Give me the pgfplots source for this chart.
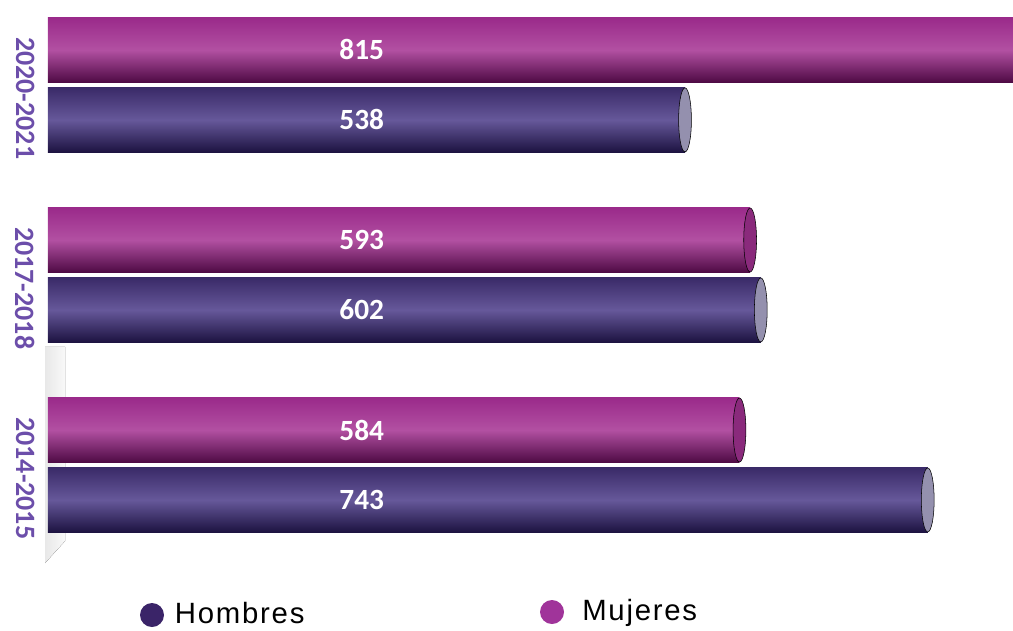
\documentclass[border=0pt]{standalone}
\usepackage{fontspec}
\setmainfont{Carlito}
\newfontfamily\legfont[LetterSpace=6]{Liberation Sans}
\usepackage{pgfplots}
\pgfplotsset{compat=1.18}
\definecolor{hTop}{HTML}{3A2A68}
\definecolor{hMid}{HTML}{66589A}
\definecolor{hBot}{HTML}{1C1240}
\definecolor{mTop}{HTML}{9A2A8A}
\definecolor{mMid}{HTML}{B250A2}
\definecolor{mBot}{HTML}{4E0A44}
\definecolor{catcol}{HTML}{6C4EAA}
\definecolor{hLeg}{HTML}{3A2468}
\definecolor{mLeg}{HTML}{A0349A}
\definecolor{hCap}{HTML}{9490AE}
\definecolor{mCap}{HTML}{8A2A7C}
\tikzset{vlab/.style={text=white, font=\bfseries\fontsize{22}{22}\selectfont}}
\pgfplotsset{
  hbar/.style={xbar, bar width=48.75pt, bar shift=-26.25pt, draw=none,
    top color=hTop, bottom color=hBot, middle color=hMid},
  mbar/.style={xbar, bar width=48.75pt, bar shift=26.25pt, draw=none,
    top color=mTop, bottom color=mBot, middle color=mMid},
}
\begin{document}
\begin{tikzpicture}
\begin{axis}[
  scale only axis,
  width=723.75pt, height=431.25pt,
  xmin=0, xmax=815, ymin=-0.579, ymax=2.447,
  clip=false,
  axis line style={draw=none},
  tick style={draw=none},
  xtick=\empty,
  ytick={-0.07,0.93,1.93},
  yticklabels={2014-2015,2017-2018,2020-2021},
  yticklabel style={rotate=-90, anchor=north, inner sep=0pt,
    font=\bfseries\fontsize{21}{21}\selectfont, text=catcol},
  yticklabel shift={10pt},
]
% left wall
\fill[left color=gray!18, right color=gray!5]
  (axis cs:-2.5,0.621) -- (axis cs:14.4,0.621) -- (axis cs:14.4,-0.40)
  -- (axis cs:-2.5,-0.516) -- cycle;
% bar end caps (drawn first, under the bars)
\addplot[only marks, mark=*, mark size=24pt,
  mark options={xscale=0.2, fill=hCap, draw=none}]
  coordinates {(743,-0.184) (602,0.816) (538,1.816)};
\addplot[only marks, mark=*, mark size=24pt,
  mark options={xscale=0.2, fill=mCap, draw=none}]
  coordinates {(584,0.184) (593,1.184)};
% Hombres
\addplot[hbar] coordinates {(743,0)};
\addplot[hbar] coordinates {(602,1)};
\addplot[hbar] coordinates {(538,2)};
% Mujeres
\addplot[mbar] coordinates {(584,0)};
\addplot[mbar] coordinates {(593,1)};
\addplot[mbar] coordinates {(815,2)};
% value labels
\node[vlab, yshift=-26.25pt] at (axis cs:265,0) {743};
\node[vlab, yshift=-26.25pt] at (axis cs:265,1) {602};
\node[vlab, yshift=-26.25pt] at (axis cs:265,2) {538};
\node[vlab, yshift=26.25pt] at (axis cs:265,0) {584};
\node[vlab, yshift=26.25pt] at (axis cs:265,1) {593};
\node[vlab, yshift=26.25pt] at (axis cs:265,2) {815};
% legend
\fill[hLeg] ([xshift=78pt,yshift=-30pt]rel axis cs:0,0) circle (9pt);
\node[anchor=base west, inner sep=0pt, font=\legfont\fontsize{22}{22}\selectfont]
  at ([xshift=95pt,yshift=-36pt]rel axis cs:0,0) {Hombres};
\fill[mLeg] ([xshift=378pt,yshift=-27.75pt]rel axis cs:0,0) circle (9pt);
\node[anchor=base west, inner sep=0pt, font=\legfont\fontsize{22}{22}\selectfont]
  at ([xshift=400.5pt,yshift=-33.75pt]rel axis cs:0,0) {Mujeres};
\coordinate (tl) at ([xshift=-36pt]rel axis cs:0,1);
\coordinate (br) at ([yshift=-41.25pt]rel axis cs:1,0);
\end{axis}
\pgfresetboundingbox
\path (tl) rectangle (br);
\end{tikzpicture}
\end{document}
